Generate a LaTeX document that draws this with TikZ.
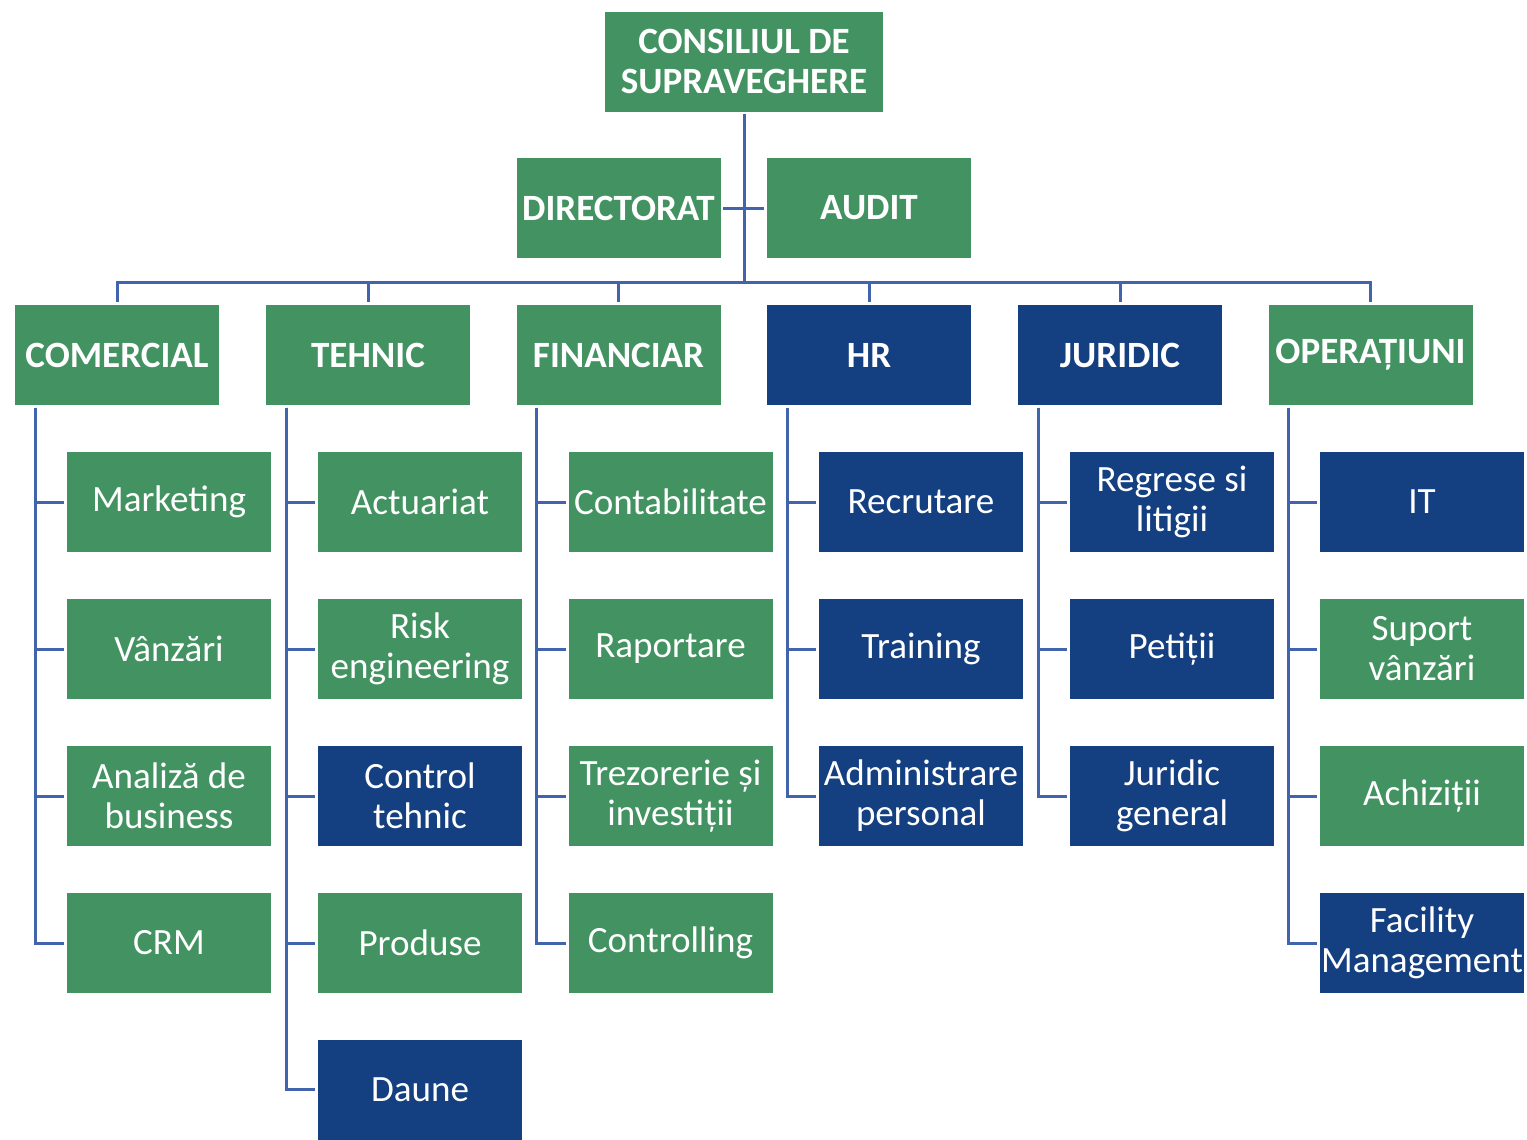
\documentclass[tikz,border=0pt]{standalone}
\usepackage{fontspec}
\setmainfont{Carlito}
\definecolor{gboxc}{RGB}{67,147,98}
\definecolor{bboxc}{RGB}{20,63,128}
\definecolor{linec}{RGB}{66,100,172}
\begin{document}
\begin{tikzpicture}[x=0.75pt,y=-0.75pt,
  box/.style={minimum width=153pt,minimum height=75pt,inner sep=0pt,outer sep=2pt,align=center,text=white,
    font=\fontsize{27.8}{30}\selectfont},
  hbox/.style={box,font=\fontsize{27.8}{30}\selectfont\bfseries},
  gb/.style={fill=gboxc},
  bb/.style={fill=bboxc},
  conn/.style={draw=linec,line width=2.25pt}]
\useasboundingbox (0,0) rectangle (1527,1139);
% top
\node[hbox,gb,minimum width=208.5pt] (top) at (744,61.5) {CONSILIUL DE\\SUPRAVEGHERE};
\node[hbox,gb] (dir) at (618.5,208) {DIRECTORAT};
\node[hbox,gb] (aud) at (869,208) {AUDIT};
\coordinate (bus) at (744,282);
% departments
\node[hbox,gb] (com) at (117,355) {COMERCIAL};
\node[hbox,gb] (teh) at (368,355) {TEHNIC};
\node[hbox,gb] (fin) at (618.5,355) {FINANCIAR};
\node[hbox,bb] (hr)  at (869,355) {HR};
\node[hbox,bb] (jur) at (1120,355) {JURIDIC};
\node[hbox,gb] (ops) at (1370.5,355) {OPERAȚIUNI};
% children
\node[box,gb] (c1) at (169,502) {Marketing};
\node[box,gb] (c2) at (169,649) {Vânzări};
\node[box,gb] (c3) at (169,796) {Analiză de\\business};
\node[box,gb] (c4) at (169,943) {CRM};
\node[box,gb] (t1) at (420,502) {Actuariat};
\node[box,gb] (t2) at (420,649) {Risk\\engineering};
\node[box,bb] (t3) at (420,796) {Control\\tehnic};
\node[box,gb] (t4) at (420,943) {Produse};
\node[box,bb] (t5) at (420,1089.5) {Daune};
\node[box,gb] (f1) at (670.5,502) {Contabilitate};
\node[box,gb] (f2) at (670.5,649) {Raportare};
\node[box,gb] (f3) at (670.5,796) {Trezorerie și\\investiții};
\node[box,gb] (f4) at (670.5,943) {Controlling};
\node[box,bb] (h1) at (921,502) {Recrutare};
\node[box,bb] (h2) at (921,649) {Training};
\node[box,bb] (h3) at (921,796) {Administrare\\personal};
\node[box,bb] (j1) at (1172,502) {Regrese si\\litigii};
\node[box,bb] (j2) at (1172,649) {Petiții};
\node[box,bb] (j3) at (1172,796) {Juridic\\general};
\node[box,bb] (o1) at (1422,502) {IT};
\node[box,gb] (o2) at (1422,649) {Suport\\vânzări};
\node[box,gb] (o3) at (1422,796) {Achiziții};
\node[box,bb] (o4) at (1422,943) {Facility\\Management};
% connectors
\draw[conn] (dir.east) -- (aud.west);
\foreach \d in {com,teh,fin,hr,jur,ops}
  \draw[conn] (top.south) -- (top.south |- bus) -| (\d.north);
\foreach \p/\cl in {com/{c1,c2,c3,c4},teh/{t1,t2,t3,t4,t5},fin/{f1,f2,f3,f4},hr/{h1,h2,h3},jur/{j1,j2,j3},ops/{o1,o2,o3,o4}}
  \foreach \c in \cl
    \draw[conn] ([xshift=17pt]\p.south west) |- (\c.west);
\end{tikzpicture}
\end{document}
